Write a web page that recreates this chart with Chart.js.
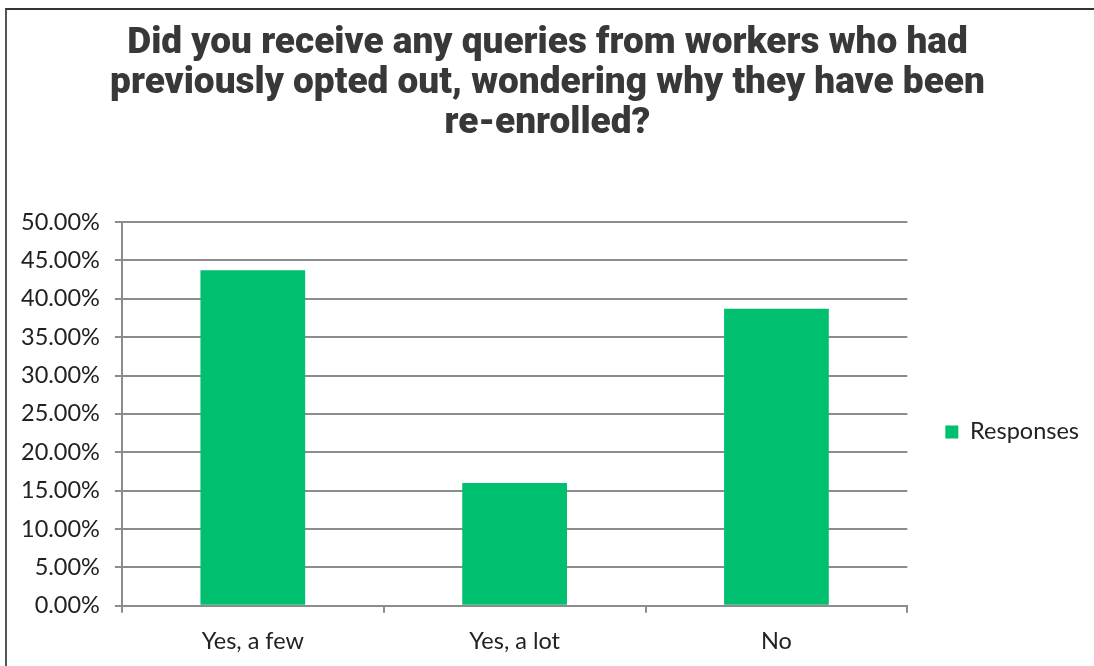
<!DOCTYPE html>
<html>
<head>
<meta charset="utf-8">
<script src="https://cdn.jsdelivr.net/npm/chart.js@4"></script>
<style>
  html, body { margin: 0; padding: 0; background: #fff; }
  .wrap { position: relative; width: 1094px; height: 666px; overflow: hidden; }
  .frame {
    position: absolute; left: 5px; top: 8px; width: 1200px; height: 800px;
    border-left: 2px solid #555; border-top: 2px solid #333;
  }
  canvas { position: absolute; left: 0; top: 0; }
</style>
</head>
<body>
<div class="wrap">
  <div class="frame"></div>
  <canvas id="myChart" width="1094" height="666"></canvas>
</div>
<script>
const titleLines = [
  'Did you receive any queries from workers who had',
  'previously opted out, wondering why they have been',
  're-enrolled?'
];
const categories = ['Yes, a few', 'Yes, a lot', 'No'];
const responses = [43.7, 16.0, 38.7];
const yMax = 50;
const yStep = 5;

const green = '#00bf6f';
const gridGrey = '#8c8c8c';
const textFont = 'Lato, "Open Sans", sans-serif';

const ctx = document.querySelector('#myChart');

const myChart = new Chart(ctx, {
    type: 'bar',
    data: {
        labels: categories,
        datasets: [{
            label: 'Responses',
            data: responses,
            backgroundColor: green,
            borderWidth: 0,
            categoryPercentage: 1,
            barPercentage: 0.4
        }]
    },
    options: {
        responsive: false,
        animation: false,
        layout: {
            padding: { left: 6, right: 5, top: 0, bottom: -5 }
        },
        plugins: {
            title: {
                display: true,
                text: titleLines,
                color: '#383838',
                font: { family: 'Roboto, sans-serif', size: 37, weight: 900, lineHeight: 40 / 37 },
                padding: { top: 24, bottom: 78 }
            },
            legend: {
                position: 'right',
                fullSize: false,
                // empty legend title only pushes the entry a little below centre
                title: { display: true, text: '', font: { size: 10 }, padding: { top: 12, bottom: 12 } },
                labels: {
                    boxWidth: 13,
                    boxHeight: 13,
                    color: '#222',
                    padding: 38,
                    font: { family: textFont, size: 23.5 }
                }
            },
            tooltip: { enabled: false }
        },
        scales: {
            x: {
                grid: {
                    offset: true,
                    drawOnChartArea: false,
                    drawTicks: true,
                    tickLength: 7,
                    color: gridGrey,
                    lineWidth: 2
                },
                border: { color: gridGrey, width: 2 },
                ticks: {
                    color: '#222',
                    padding: 15,
                    font: { family: textFont, size: 23.5 }
                }
            },
            y: {
                min: 0,
                max: yMax,
                grid: {
                    tickLength: 7,
                    color: gridGrey,
                    lineWidth: 2
                },
                border: { color: gridGrey, width: 2 },
                ticks: {
                    stepSize: yStep,
                    color: '#222',
                    padding: 15,
                    font: { family: textFont, size: 23.5 },
                    callback: v => v.toFixed(2) + '%'
                }
            }
        }
    }
});
</script>
</body>
</html>
